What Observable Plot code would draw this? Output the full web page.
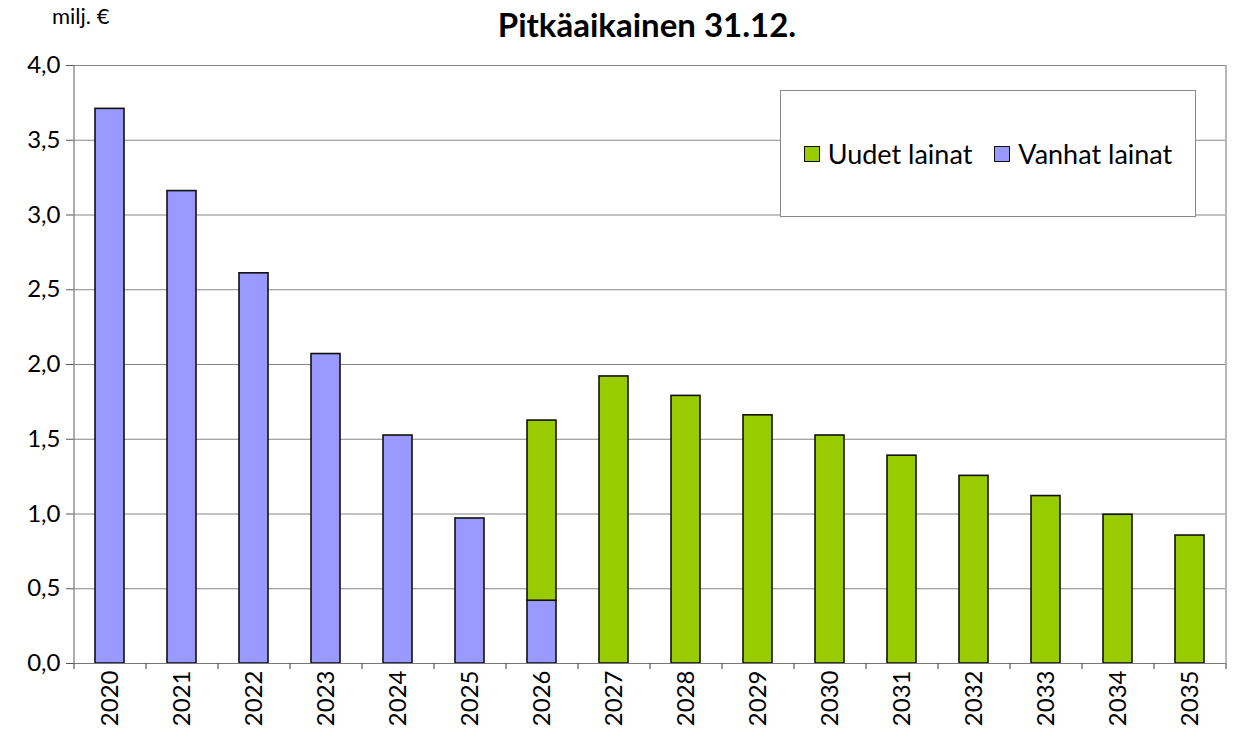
<!DOCTYPE html>
<html>
<head>
<meta charset="utf-8">
<script src="https://cdn.jsdelivr.net/npm/d3@7"></script>
<script src="https://cdn.jsdelivr.net/npm/@observablehq/plot@0.6"></script>
<style>
  html, body { margin: 0; padding: 0; background: #fff; }
  #wrap { position: relative; width: 1234px; height: 734px; font-family: Lato, "Open Sans", sans-serif; }
  #title { position: absolute; left: 0; width: 1294px; top: 8px; line-height: 1; text-align: center; font-weight: bold; font-size: 33px; color: #000; }
  #unit { position: absolute; left: 52px; top: 5px; line-height: 1; font-size: 22px; color: #000; }
  #legend { position: absolute; left: 780px; top: 90px; width: 416px; height: 127px; border: 1px solid #888; background: #fff; box-sizing: border-box;
            display: flex; align-items: center; justify-content: center; gap: 22px; font-size: 27px; }
  .item { display: flex; align-items: center; gap: 8px; }
  .sw { width: 16px; height: 16px; border: 1.5px solid #111; box-sizing: border-box; }
  svg { position: absolute; left: 0; top: 0; }
</style>
</head>
<body>
<div id="wrap">
  <div id="title">Pitkäaikainen 31.12.</div>
  <div id="unit">milj. €</div>
  <div id="chart"></div>
  <div id="legend"></div>
</div>
<script>
const years = ["2020","2021","2022","2023","2024","2025","2026","2027","2028","2029","2030","2031","2032","2033","2034","2035"];
const vanhat = [3.71, 3.16, 2.61, 2.07, 1.525, 0.97, 0.42, 0, 0, 0, 0, 0, 0, 0, 0, 0];
const uudet  = [0, 0, 0, 0, 0, 0, 1.205, 1.92, 1.79, 1.66, 1.525, 1.39, 1.255, 1.12, 0.995, 0.856];
const seriesNames = ["Uudet lainat", "Vanhat lainat"];
const seriesColors = ["#99CC00", "#9999FF"];
const yTicks = [0, 0.5, 1, 1.5, 2, 2.5, 3, 3.5, 4];

const rows = [];
years.forEach((y, i) => {
  if (vanhat[i] > 0) rows.push({year: y, series: "Vanhat lainat", value: vanhat[i]});
  if (uudet[i] > 0) rows.push({year: y, series: "Uudet lainat", value: uudet[i]});
});

const W = 1234, H = 734, mL = 73, mR = 9, mT = 65, mB = 71;
const step = (W - mL - mR) / years.length;
const fmt = d => d.toFixed(1).replace(".", ",");

const chart = Plot.plot({
  width: W, height: H,
  marginLeft: mL, marginRight: mR, marginTop: mT, marginBottom: mB,
  style: { fontFamily: "Lato, 'Open Sans', sans-serif", fontSize: "24px", color: "#000", background: "transparent" },
  x: { domain: years, paddingInner: 0.6, paddingOuter: 0.3, label: null },
  y: { domain: [0, 4], label: null },
  color: { domain: seriesNames, range: seriesColors },
  marks: [
    Plot.ruleY(yTicks.filter(d => d > 0), { stroke: "#868686", strokeWidth: 1.2 }),
    Plot.barY(rows, Plot.stackY({
      x: "year", y: "value", fill: "series",
      order: ["Vanhat lainat", "Uudet lainat"],
      stroke: "#111", strokeWidth: 1.6
    })),
    Plot.ruleX([years[0]], { dx: -step / 2, y1: 0, y2: 4, stroke: "#777", strokeWidth: 1.2 }),
    Plot.ruleX([years[years.length - 1]], { dx: step / 2, y1: 0, y2: 4, stroke: "#888", strokeWidth: 1.2 }),
    Plot.ruleY([0], { stroke: "#777", strokeWidth: 1.2 }),
    Plot.ruleX(years, { dx: -step / 2, y1: 0, y2: -0.04, stroke: "#555", strokeWidth: 1.2 }),
    Plot.ruleX([years[years.length - 1]], { dx: step / 2, y1: 0, y2: -0.04, stroke: "#555", strokeWidth: 1.2 }),
    Plot.axisY({ ticks: yTicks, tickFormat: fmt, tickSize: 7, tickPadding: 6, stroke: "#555", fontSize: 24, label: null }),
    Plot.axisX({ tickSize: 0, tickPadding: 7, tickRotate: -90, fontSize: 24, label: null })
  ]
});
document.getElementById("chart").appendChild(chart);

const legend = document.getElementById("legend");
seriesNames.forEach((name, i) => {
  const it = document.createElement("div");
  it.className = "item";
  const sw = document.createElement("div");
  sw.className = "sw";
  sw.style.background = seriesColors[i];
  const tx = document.createElement("span");
  tx.textContent = name;
  it.appendChild(sw); it.appendChild(tx);
  legend.appendChild(it);
});
</script>
</body>
</html>
